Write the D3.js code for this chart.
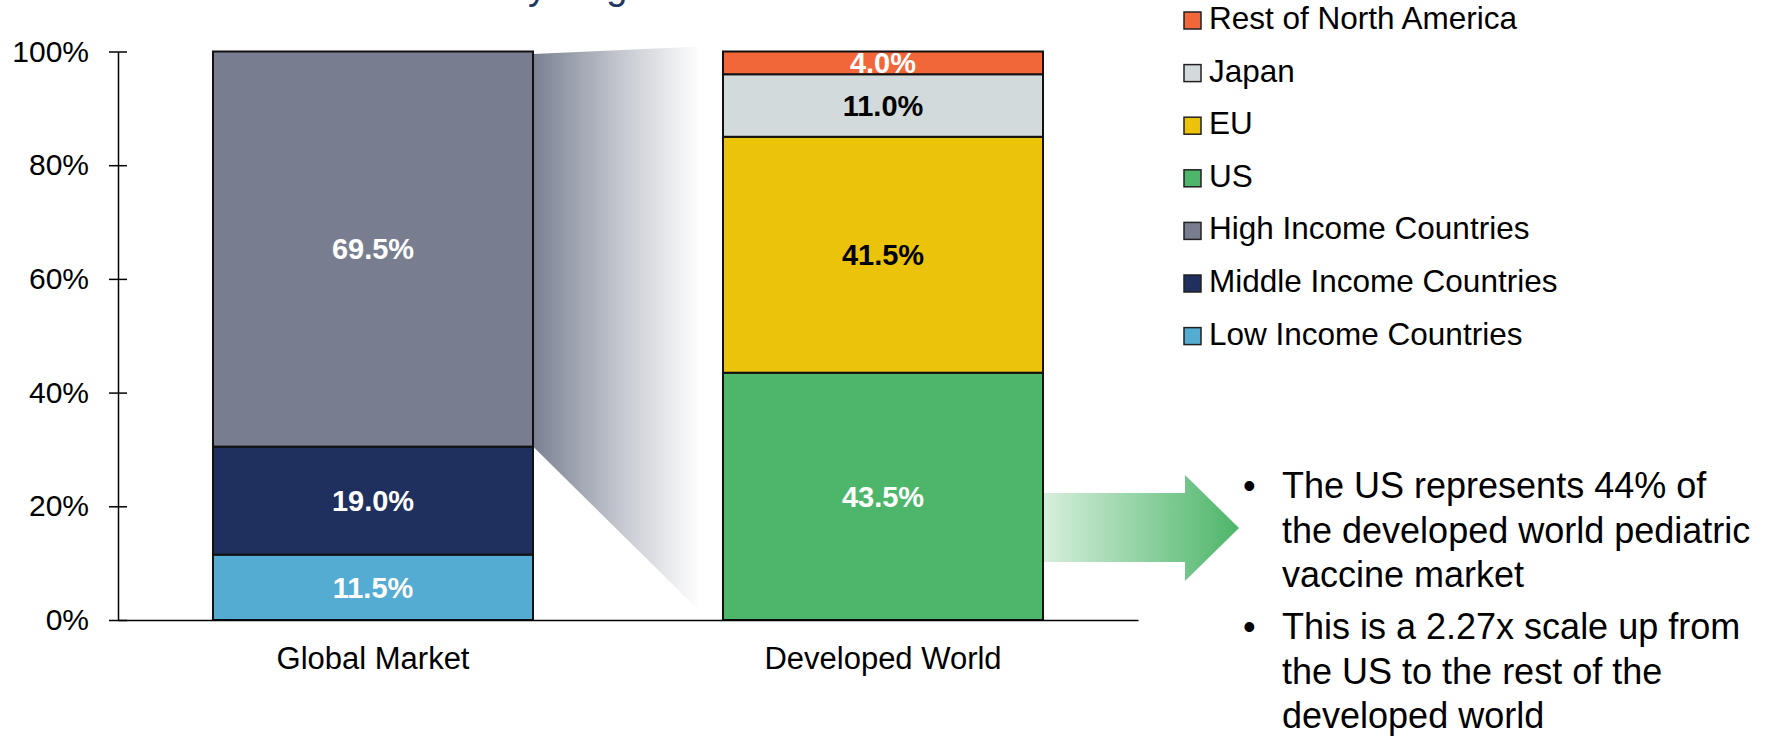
<!DOCTYPE html>
<html><head><meta charset="utf-8">
<script src="https://cdn.jsdelivr.net/npm/d3@7"></script>
<style>
html,body{margin:0;padding:0;background:#fff;}
svg{display:block;font-family:"Liberation Sans",Arial,Helvetica,sans-serif;}
</style></head><body>
<svg id="chart" width="1783" height="737"></svg>
<script>
// ---------- data ----------
const categories = ["Global Market", "Developed World"];
const globalSeries = ["Low Income Countries", "Middle Income Countries", "High Income Countries"];
const globalValues = [11.5, 19.0, 69.5];
const developedSeries = ["US", "EU", "Japan", "Rest of North America"];
const developedValues = [43.5, 41.5, 11.0, 4.0];
const yTicks = [0, 20, 40, 60, 80, 100];
const legendOrder = ["Rest of North America", "Japan", "EU", "US",
  "High Income Countries", "Middle Income Countries", "Low Income Countries"];
const bulletLines = [
  ["The US represents 44% of", "the developed world pediatric", "vaccine market"],
  ["This is a 2.27x scale up from", "the US to the rest of the", "developed world"]
];
const titleText = "Pediatric Vaccine Market by Region";

// ---------- styles ----------
const colors = {
  "Low Income Countries": "#54acd2",
  "Middle Income Countries": "#1f2f5e",
  "High Income Countries": "#787e8f",
  "US": "#4eb66a",
  "EU": "#ecc30b",
  "Japan": "#d3dadb",
  "Rest of North America": "#f2673a"
};
const darkLabel = new Set(["EU", "Japan"]);

const svg = d3.select("#chart");
const defs = svg.append("defs");

// ---------- scales ----------
const x = d3.scaleBand().domain(categories).range([118, 1138])
  .paddingInner(0.3725).paddingOuter(0.18625);
const y = d3.scaleLinear().domain([0, 100]).range([620, 51.5]);
const bw = x.bandwidth();

// stacked rows
function stack(cat, series, values) {
  let acc = 0;
  return series.map((s, i) => {
    const r = { cat, series: s, value: values[i], y0: acc, y1: acc + values[i] };
    acc += values[i];
    return r;
  });
}
const rowsGlobal = stack(categories[0], globalSeries, globalValues);
const rowsDev = stack(categories[1], developedSeries, developedValues);
const rows = rowsGlobal.concat(rowsDev);

// ---------- title (only its descenders show, as in the reference) ----------
svg.append("text")
  .attr("x", 678).attr("y", -1)
  .attr("text-anchor", "end")
  .attr("font-size", 38)
  .attr("fill", "#1f3864")
  .text(titleText);

// ---------- connector shading ----------
const gx0 = x(categories[0]) + bw;
const gx1 = x(categories[1]);
const connGrad = defs.append("linearGradient").attr("id", "connGrad")
  .attr("gradientUnits", "userSpaceOnUse")
  .attr("x1", gx0).attr("y1", 0).attr("x2", gx1).attr("y2", 0);
connGrad.append("stop").attr("offset", 0).attr("stop-color", "#7a8092");
connGrad.append("stop").attr("offset", 0.45).attr("stop-color", "#c3c6ce");
connGrad.append("stop").attr("offset", 0.88).attr("stop-color", "#ffffff");
const highRow = rowsGlobal[rowsGlobal.length - 1];
svg.append("path")
  .attr("d", d3.line()([
    [gx0, y(highRow.y1) + 2.5],
    [gx1, y(highRow.y1) - 6],
    [gx1, y(0) + 14],
    [gx0, y(highRow.y0)]
  ]) + "Z")
  .attr("fill", "url(#connGrad)");

// ---------- arrow ----------
const ax0 = x(categories[1]) + bw;
const arrowGrad = defs.append("linearGradient").attr("id", "arrowGrad")
  .attr("gradientUnits", "userSpaceOnUse")
  .attr("x1", ax0).attr("y1", 0).attr("x2", ax0 + 196).attr("y2", 0);
arrowGrad.append("stop").attr("offset", 0).attr("stop-color", "#d7efdd");
arrowGrad.append("stop").attr("offset", 1).attr("stop-color", "#4db56a");
const acy = 528;
svg.append("path")
  .attr("d", d3.line()([
    [ax0, acy - 35], [ax0 + 142, acy - 35], [ax0 + 142, acy - 53],
    [ax0 + 196, acy], [ax0 + 142, acy + 53], [ax0 + 142, acy + 34],
    [ax0, acy + 34]
  ]) + "Z")
  .attr("fill", "url(#arrowGrad)");

// ---------- bars ----------
svg.append("g").selectAll("rect").data(rows).join("rect")
  .attr("x", d => x(d.cat))
  .attr("y", d => y(d.y1))
  .attr("width", bw)
  .attr("height", d => y(d.y0) - y(d.y1))
  .attr("fill", d => colors[d.series])
  .attr("stroke", "#111")
  .attr("stroke-width", 2);

// labels
svg.append("g").selectAll("text").data(rows).join("text")
  .attr("x", d => x(d.cat) + bw / 2)
  .attr("y", d => y((d.y0 + d.y1) / 2))
  .attr("dy", "0.36em")
  .attr("text-anchor", "middle")
  .attr("font-size", 29)
  .attr("font-weight", "bold")
  .attr("fill", d => darkLabel.has(d.series) ? "#000" : "#fff")
  .text(d => d.value.toFixed(1) + "%");

// ---------- axes ----------
const yAxisG = svg.append("g")
  .attr("transform", `translate(${x.range()[0]},0)`)
  .call(d3.axisLeft(y).tickValues(yTicks).tickFormat(d => d + "%")
    .tickSize(9).tickSizeOuter(0).tickPadding(20));
yAxisG.select(".domain").attr("stroke", "#000").attr("stroke-width", 1.5);
yAxisG.selectAll(".tick line").attr("x1", 9).attr("stroke", "#000").attr("stroke-width", 1.5);
yAxisG.selectAll(".tick text")
  .attr("font-size", 30).attr("fill", "#000")
  .attr("font-family", "'Liberation Sans', Arial, sans-serif");

const xAxisG = svg.append("g")
  .attr("transform", `translate(0,${y(0)})`)
  .call(d3.axisBottom(x).tickSize(0).tickSizeOuter(0));
xAxisG.select(".domain").attr("stroke", "#000").attr("stroke-width", 1.5);
xAxisG.selectAll(".tick text")
  .attr("y", 49).attr("dy", 0)
  .attr("font-size", 31).attr("fill", "#000")
  .attr("font-family", "'Liberation Sans', Arial, sans-serif");

// ---------- legend ----------
const legend = svg.append("g").selectAll("g").data(legendOrder).join("g")
  .attr("transform", (d, i) => `translate(1184,${29 + i * 52.6})`);
legend.append("rect")
  .attr("x", 0).attr("y", -17).attr("width", 17).attr("height", 17)
  .attr("fill", d => colors[d]).attr("stroke", "#222").attr("stroke-width", 1.5);
legend.append("text")
  .attr("x", 25).attr("y", 0)
  .attr("font-size", 31.5).attr("fill", "#000")
  .text(d => d);

// ---------- bullet notes ----------
const bulletBase = [498, 639];
const notes = svg.append("g");
bulletLines.forEach((lines, bi) => {
  notes.append("text")
    .attr("x", 1243).attr("y", bulletBase[bi])
    .attr("font-size", 36).attr("fill", "#000")
    .text("\u2022");
  lines.forEach((ln, li) => {
    notes.append("text")
      .attr("x", 1282).attr("y", bulletBase[bi] + li * 44.5)
      .attr("font-size", 36).attr("fill", "#000")
      .text(ln);
  });
});
</script>
</body></html>
